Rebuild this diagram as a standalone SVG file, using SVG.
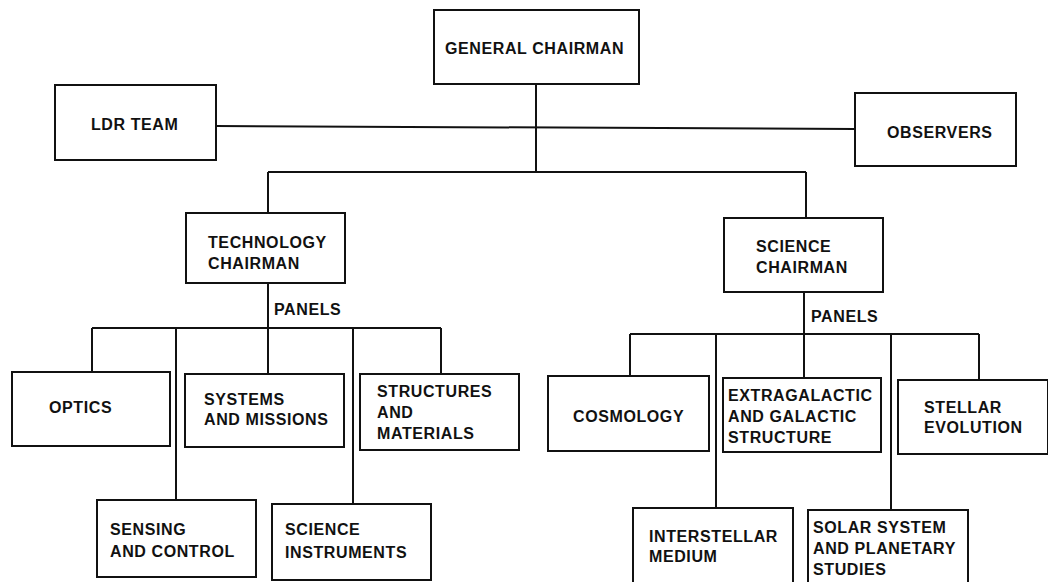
<svg xmlns="http://www.w3.org/2000/svg" width="1048" height="582" viewBox="0 0 1048 582">
<style>
.box{fill:#fff;stroke:#111;stroke-width:2}
.ln{fill:none;stroke:#111;stroke-width:2}
text{font-family:"Liberation Sans",Arial,sans-serif;font-weight:bold;font-size:16px;letter-spacing:0.6px;fill:#111}
</style>
<rect width="1048" height="582" fill="#fff"/>
<g id="connectors" class="ln">
<path d="M536 84V172"/>
<path d="M216 126L855 129"/>
<path d="M268 172H806"/>
<path d="M268 172V213"/>
<path d="M806 172V218"/>
<path d="M268 283V328"/>
<path d="M92 328H441"/>
<path d="M92 328V372M176 328V500M268 328V374M353 328V503M441 328V374"/>
<path d="M804 292V334"/>
<path d="M630 334H979"/>
<path d="M630 334V376M716 334V508M804 334V378M891 334V510M979 334V380"/>
</g>
<g id="general"><rect class="box" x="434" y="10" width="205" height="74"/><text x="445" y="54">GENERAL CHAIRMAN</text></g>
<g id="ldr"><rect class="box" x="55" y="85" width="161" height="75"/><text x="91" y="130">LDR TEAM</text></g>
<g id="observers"><rect class="box" x="855" y="93" width="161" height="73"/><text x="887" y="138">OBSERVERS</text></g>
<g id="tech"><rect class="box" x="186" y="213" width="159" height="70"/><text x="208" y="248">TECHNOLOGY</text><text x="208" y="269">CHAIRMAN</text></g>
<g id="tech-panels"><text x="274" y="315">PANELS</text></g>
<g id="science"><rect class="box" x="724" y="218" width="159" height="74"/><text x="756" y="252">SCIENCE</text><text x="756" y="273">CHAIRMAN</text></g>
<g id="sci-panels"><text x="811" y="322">PANELS</text></g>
<g id="optics"><rect class="box" x="12" y="372" width="158" height="74"/><text x="49" y="413">OPTICS</text></g>
<g id="systems"><rect class="box" x="185" y="374" width="159" height="73"/><text x="204" y="405">SYSTEMS</text><text x="204" y="425">AND MISSIONS</text></g>
<g id="structures"><rect class="box" x="360" y="374" width="159" height="76"/><text x="377" y="397">STRUCTURES</text><text x="377" y="418">AND</text><text x="377" y="439">MATERIALS</text></g>
<g id="sensing"><rect class="box" x="97" y="500" width="159" height="77"/><text x="110" y="535">SENSING</text><text x="110" y="557">AND CONTROL</text></g>
<g id="instruments"><rect class="box" x="272" y="504" width="159" height="76"/><text x="285" y="535">SCIENCE</text><text x="285" y="558">INSTRUMENTS</text></g>
<g id="cosmology"><rect class="box" x="548" y="376" width="161" height="75"/><text x="573" y="422">COSMOLOGY</text></g>
<g id="extragalactic"><rect class="box" x="723" y="378" width="158" height="74"/><text x="728" y="401">EXTRAGALACTIC</text><text x="728" y="422">AND GALACTIC</text><text x="728" y="443">STRUCTURE</text></g>
<g id="stellar"><rect class="box" x="898" y="380" width="150" height="74"/><text x="924" y="413">STELLAR</text><text x="924" y="433">EVOLUTION</text></g>
<g id="interstellar"><rect class="box" x="633" y="508" width="160" height="84"/><text x="649" y="542">INTERSTELLAR</text><text x="649" y="562">MEDIUM</text></g>
<g id="solar"><rect class="box" x="808" y="510" width="160" height="82"/><text x="813" y="533">SOLAR SYSTEM</text><text x="813" y="554">AND PLANETARY</text><text x="813" y="575">STUDIES</text></g>
</svg>
